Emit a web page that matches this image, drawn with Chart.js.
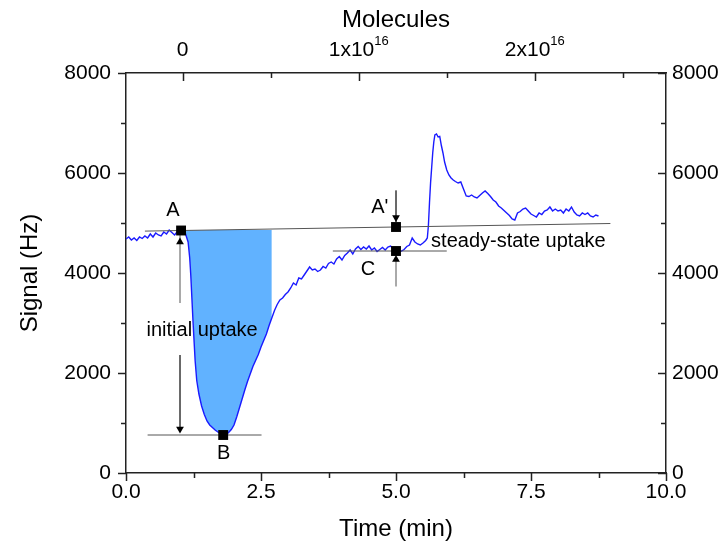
<!DOCTYPE html>
<html>
<head>
<meta charset="utf-8">
<script src="https://cdn.jsdelivr.net/npm/chart.js@4.4.1/dist/chart.umd.min.js"></script>
<style>
  body { margin: 0; background: #fff; }
</style>
</head>
<body>
<canvas id="myChart" width="722" height="546"></canvas>
<script>
// values
var timeMin = [0.00,0.05,0.10,0.15,0.20,0.25,0.30,0.35,0.40,0.45,0.50,0.55,0.60,0.65,0.70,0.75,0.80,0.85,0.90,0.95,
  1.00,1.05,1.10,1.15,1.18,1.20,1.22,1.24,1.26,1.28,1.31,1.35,1.40,1.45,1.50,1.55,1.60,1.65,1.70,1.75,
  1.80,1.85,1.90,1.95,2.00,2.05,2.10,2.15,2.20,2.25,2.30,2.35,2.40,2.45,2.50,2.55,2.60,2.65,2.70,2.75,
  2.80,2.85,2.90,2.95,3.00,3.05,3.10,3.15,3.20,3.25,3.30,3.35,3.40,3.45,3.50,3.55,3.60,3.65,3.70,3.75,
  3.80,3.85,3.90,3.95,4.00,4.05,4.10,4.15,4.20,4.25,4.30,4.35,4.40,4.45,4.50,4.55,4.60,4.65,4.70,4.75,
  4.80,4.85,4.90,4.95,5.00,5.05,5.10,5.15,5.20,5.25,5.30,5.35,5.40,5.45,5.50,5.55,5.58,5.60,5.62,5.64,
  5.66,5.68,5.70,5.72,5.75,5.78,5.81,5.84,5.87,5.90,5.94,5.98,6.02,6.06,6.10,6.15,6.20,6.25,6.30,6.35,
  6.40,6.45,6.50,6.55,6.60,6.65,6.70,6.75,6.80,6.85,6.90,6.95,7.00,7.05,7.10,7.15,7.20,7.25,7.30,7.35,
  7.40,7.45,7.50,7.55,7.60,7.65,7.70,7.75,7.80,7.85,7.90,7.95,8.00,8.05,8.10,8.15,8.20,8.25,8.30,8.35,
  8.40,8.45,8.50,8.55,8.60,8.65,8.70,8.75];
var signalHz = [4680,4720,4660,4700,4650,4720,4690,4740,4700,4780,4720,4800,4760,4740,4820,4780,4860,4810,4760,4830,
  4850,4840,4790,4620,4300,3950,3500,3050,2650,2250,1850,1580,1340,1170,1040,960,910,860,820,790,
  760,770,810,870,960,1120,1300,1480,1660,1830,1980,2130,2250,2370,2520,2650,2780,2950,3100,3250,
  3370,3460,3500,3570,3620,3700,3800,3760,3900,3880,3960,4040,4120,4060,4080,4030,4060,4130,4100,4190,
  4220,4180,4280,4330,4260,4350,4400,4460,4380,4480,4530,4470,4520,4480,4540,4460,4500,4430,4470,4510,
  4460,4520,4540,4480,4440,4420,4440,4470,4530,4560,4700,4620,4580,4560,4600,4650,4700,4950,5400,5800,
  6100,6400,6620,6760,6780,6720,6730,6550,6400,6220,6060,5960,5900,5860,5830,5800,5820,5680,5540,5530,
  5560,5520,5500,5550,5600,5640,5590,5530,5460,5420,5340,5300,5250,5200,5150,5080,5060,5200,5230,5280,
  5300,5240,5180,5150,5120,5200,5170,5240,5260,5320,5240,5280,5240,5260,5200,5280,5240,5320,5220,5160,
  5140,5200,5170,5200,5140,5120,5160,5140];

// shaded "initial uptake" window (min)
var fillStart = 1.05;
var fillEnd = 2.72;

// marked points A, A', B, C
var markerNames = ['A', "A'", 'B', 'C'];
var markerTime = [1.02, 5.0, 1.8, 5.0];
var markerSignal = [4850, 4920, 760, 4440];

// guide lines (each: two end points)
var lineAA = [[0.35, 4838], [8.97, 4990]];
var lineB = [[0.40, 760], [2.51, 760]];
var lineC = [[3.83, 4440], [5.94, 4440]];
var arrowShafts = [
  [[1.0, 3400], [1.0, 4760]],
  [[1.0, 2360], [1.0, 820]],
  [[5.0, 5650], [5.0, 5020]],
  [[5.0, 3730], [5.0, 4320]]
];
var arrowUp = [[1.0, 4620], [5.0, 4270]];
var arrowDown = [[1.0, 880], [5.0, 5110]];

// text labels in data coordinates
var labelText = ['A', "A'", 'B', 'C', 'initial uptake', 'steady-state uptake'];
var labelTime = [0.87, 4.70, 1.81, 4.48, 1.41, 5.65];
var labelSignal = [5260, 5320, 400, 4080, 2860, 4640];
var labelAlign = ['center', 'center', 'center', 'center', 'center', 'left'];

// axes
var xTicks = [0, 2.5, 5, 7.5, 10];
var xMinor = [1.25, 3.75, 6.25, 8.75];
var yTicks = [0, 2000, 4000, 6000, 8000];
var yMinor = [1000, 3000, 5000, 7000];
var moleculeTicks = [0, 1, 2];        // in units of 1e16
var moleculeMinor = [0.5, 1.5, 2.5];
var moleculeBase = ['0', '1x10', '2x10'];
var moleculeExp = ['', '16', '16'];
var moleculeZeroTime = 1.05;   // min where molecules = 0
var minutesPer1e16 = 3.26;

var FONT = "'Liberation Sans', Arial, sans-serif";

var toPts = function (arr) { return arr.map(function (p) { return {x: p[0], y: p[1]}; }); };

var curve = timeMin.map(function (t, i) { return {x: t, y: signalHz[i]}; });
var fillPart = curve.filter(function (p) { return p.x >= fillStart && p.x <= fillEnd; });

var guideStyle = {borderColor: '#555', borderWidth: 1, pointRadius: 0, fill: false, order: 4};

var datasets = [
  // 0: shaded area, filled to the A-A' line (dataset 2)
  {data: fillPart, borderWidth: 0, pointRadius: 0, backgroundColor: 'rgb(97,178,255)', fill: {target: 2}, order: 10},
  // 1: signal trace
  {data: curve, borderColor: '#1a1aff', borderWidth: 1.4, pointRadius: 0, fill: false, order: 5},
  // 2: A-A' line
  Object.assign({data: toPts(lineAA)}, guideStyle),
  Object.assign({data: toPts(lineB)}, guideStyle),
  Object.assign({data: toPts(lineC)}, guideStyle)
];
arrowShafts.forEach(function (s) {
  datasets.push(Object.assign({data: toPts(s)}, guideStyle));
});
datasets.push({data: toPts(arrowUp), showLine: false, pointStyle: 'triangle', pointRotation: 0,
  pointRadius: 4.5, backgroundColor: '#000', borderColor: '#000', borderWidth: 0, order: 1});
datasets.push({data: toPts(arrowDown), showLine: false, pointStyle: 'triangle', pointRotation: 180,
  pointRadius: 4.5, backgroundColor: '#000', borderColor: '#000', borderWidth: 0, order: 1});
datasets.push({data: markerTime.map(function (t, i) { return {x: t, y: markerSignal[i]}; }),
  showLine: false, pointStyle: 'rect', pointRadius: 7, backgroundColor: '#000', borderColor: '#000',
  borderWidth: 0, order: 0});

var axisExtras = {
  id: 'axisExtras',
  afterDraw: function (chart) {
    var ctx = chart.ctx, a = chart.chartArea, s = chart.scales;
    ctx.save();
    ctx.strokeStyle = '#222';
    ctx.lineWidth = 1.5;
    ctx.beginPath();
    var vt = function (px, y0, len) { ctx.moveTo(Math.round(px) + 0.5, y0); ctx.lineTo(Math.round(px) + 0.5, y0 + len); };
    var ht = function (py, x0, len) { ctx.moveTo(x0, Math.round(py) + 0.5); ctx.lineTo(x0 + len, Math.round(py) + 0.5); };
    xTicks.forEach(function (v) { vt(s.x.getPixelForValue(v), a.bottom, 8); });
    xMinor.forEach(function (v) { vt(s.x.getPixelForValue(v), a.bottom, 5); });
    moleculeTicks.forEach(function (v) { vt(s.x2.getPixelForValue(v), a.top, 8); });
    moleculeMinor.forEach(function (v) { vt(s.x2.getPixelForValue(v), a.top, 5); });
    yTicks.forEach(function (v) { ht(s.y.getPixelForValue(v), a.left, -8); ht(s.y.getPixelForValue(v), a.right, -8); });
    yMinor.forEach(function (v) { ht(s.y.getPixelForValue(v), a.left, -5); ht(s.y.getPixelForValue(v), a.right, -5); });
    ctx.stroke();

    // top axis labels with superscript exponent
    ctx.fillStyle = '#000';
    ctx.textBaseline = 'alphabetic';
    moleculeTicks.forEach(function (v, i) {
      var px = s.x2.getPixelForValue(v);
      ctx.font = '21px ' + FONT;
      var wb = ctx.measureText(moleculeBase[i]).width;
      ctx.font = '13px ' + FONT;
      var we = moleculeExp[i] ? ctx.measureText(moleculeExp[i]).width : 0;
      var x0 = px - (wb + we) / 2;
      ctx.font = '21px ' + FONT;
      ctx.textAlign = 'left';
      ctx.fillText(moleculeBase[i], x0, 56);
      if (moleculeExp[i]) {
        ctx.font = '13px ' + FONT;
        ctx.fillText(moleculeExp[i], x0 + wb, 45);
      }
    });

    // annotation texts
    ctx.font = '20px ' + FONT;
    ctx.textBaseline = 'middle';
    labelText.forEach(function (txt, i) {
      ctx.textAlign = labelAlign[i];
      ctx.fillText(txt, s.x.getPixelForValue(labelTime[i]), s.y.getPixelForValue(labelSignal[i]));
    });
    ctx.restore();
  }
};

var tickFont = {family: FONT, size: 21};
var titleFont = {family: FONT, size: 24};
var plainNumber = function (v) { return String(v); };

var ctx = document.getElementById('myChart').getContext('2d');
var chart = new Chart(ctx, {
  type: 'line',
  data: {datasets: datasets},
  options: {
    responsive: false,
    animation: false,
    layout: {padding: 0},
    plugins: {legend: {display: false}, tooltip: {enabled: false}},
    scales: {
      x: {
        type: 'linear', position: 'bottom', min: 0, max: 10,
        afterBuildTicks: function (sc) { sc.ticks = xTicks.map(function (v) { return {value: v}; }); },
        afterFit: function (sc) { sc.height = 73; },
        grid: {display: false, drawTicks: false},
        border: {display: true, color: '#222', width: 1.5},
        ticks: {font: tickFont, color: '#000', padding: 7, maxRotation: 0,
          callback: function (v) { return v.toFixed(1); }},
        title: {display: true, text: 'Time (min)', font: titleFont, color: '#000', padding: {top: 0, bottom: 2}}
      },
      x2: {
        type: 'linear', position: 'top',
        min: -moleculeZeroTime / minutesPer1e16, max: (10 - moleculeZeroTime) / minutesPer1e16,
        afterFit: function (sc) { sc.height = 73; },
        grid: {display: false, drawTicks: false},
        border: {display: true, color: '#222', width: 1.5},
        ticks: {display: false},
        title: {display: true, text: 'Molecules', font: titleFont, color: '#000', padding: {top: 6, bottom: 0}}
      },
      y: {
        type: 'linear', position: 'left', min: 0, max: 8000,
        afterBuildTicks: function (sc) { sc.ticks = yTicks.map(function (v) { return {value: v}; }); },
        afterFit: function (sc) { sc.width = 126; },
        grid: {display: false, drawTicks: false},
        border: {display: true, color: '#222', width: 1.5},
        ticks: {font: tickFont, color: '#000', padding: 15, callback: plainNumber},
        title: {display: true, text: 'Signal (Hz)', font: titleFont, color: '#000', padding: {top: 16, bottom: 0}}
      },
      y2: {
        type: 'linear', position: 'right', min: 0, max: 8000, display: true,
        afterBuildTicks: function (sc) { sc.ticks = yTicks.map(function (v) { return {value: v}; }); },
        afterFit: function (sc) { sc.width = 56; },
        grid: {display: false, drawTicks: false},
        border: {display: true, color: '#222', width: 1.5},
        ticks: {font: tickFont, color: '#000', padding: 6, callback: plainNumber}
      }
    }
  },
  plugins: [axisExtras]
});
</script>
</body>
</html>
